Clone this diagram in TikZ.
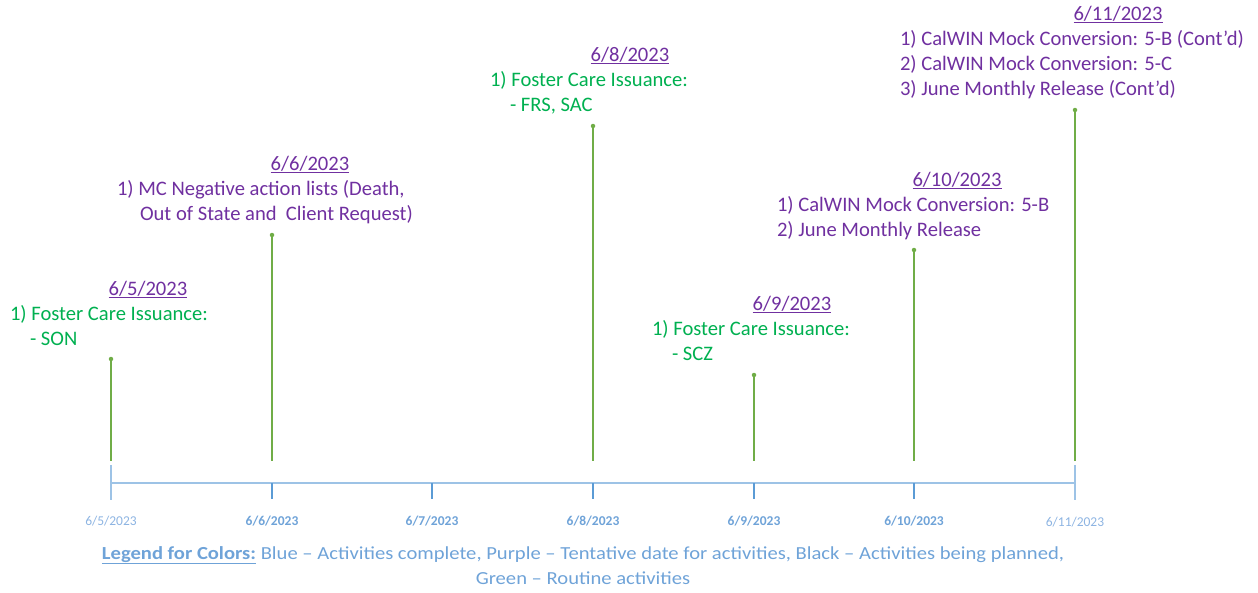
\documentclass[tikz,border=0pt]{standalone}
\usepackage{fontspec}
\setmainfont{Carlito}
\newfontfamily\legfont[FakeStretch=1.12]{Carlito}
\definecolor{gtext}{HTML}{00B050}
\definecolor{ptext}{HTML}{7030A0}
\definecolor{stem}{HTML}{70AD47}
\definecolor{axis}{HTML}{9DC3E6}
\definecolor{tick}{HTML}{5B9BD5}
\definecolor{lbl}{HTML}{6FA3D8}
\definecolor{lbllight}{HTML}{8DB4E2}
\begin{document}
\begin{tikzpicture}[x=1pt,y=-1pt,
  every node/.style={inner sep=0pt,outer sep=0pt},
  big/.style={font=\fontsize{20.6}{25}\selectfont},
  gline/.style={big,text=gtext,anchor=base west},
  pline/.style={big,text=ptext,anchor=base west},
  head/.style={big,text=ptext,anchor=base},
  stemline/.style={draw=stem,line width=2pt},
  stemdot/.style={circle,fill=stem,minimum size=4.5pt},
  axlbl/.style={font=\fontsize{13.5}{16}\selectfont\bfseries,text=lbl,anchor=base},
  axlblend/.style={font=\fontsize{13.5}{16}\selectfont,text=lbllight,anchor=base},
  legend/.style={font=\legfont\fontsize{18.4}{22}\selectfont,text=lbl,anchor=base}]
\useasboundingbox (0,0) rectangle (1258,592);

% axis
\coordinate (a0) at (111,483);
\coordinate (a6) at (1075,483);
\draw[axis,line width=2pt] (a0) -- (a6);
\coordinate (e0t) at (111,465); \coordinate (e0b) at (111,500);
\coordinate (e6t) at (1075,465); \coordinate (e6b) at (1075,500);
\draw[axis,line width=1.6pt] (e0t) -- (e0b);
\draw[axis,line width=1.6pt] (e6t) -- (e6b);
\foreach \i/\x in {1/272,2/432,3/593,4/754,5/914}{
  \coordinate (t\i a) at (\x,483);
  \coordinate (t\i b) at (\x,499);
  \draw[tick,line width=1.2pt] (t\i a) -- (t\i b);
}

% axis labels
\node[axlblend] (l0) at (111,525) {6/5/2023};
\node[axlbl] (l1) at (272,525) {6/6/2023};
\node[axlbl] (l2) at (432,525) {6/7/2023};
\node[axlbl] (l3) at (593,525) {6/8/2023};
\node[axlbl] (l4) at (754,525) {6/9/2023};
\node[axlbl] (l5) at (914,525) {6/10/2023};
\node[axlblend] (l6) at (1075,526) {6/11/2023};

% stems
\foreach \n/\x/\y in {s0/111/359,s1/272/235,s3/593/126,s4/754/375,s5/914/250,s6/1075/110}{
  \coordinate (\n top) at (\x,\y);
  \coordinate (\n bot) at (\x,461);
  \draw[stemline] (\n top) -- (\n bot);
  \node[stemdot] (\n dot) at (\n top) {};
}

% 6/5
\node[head] (h0) at (148,295) {\underline{6/5/2023}};
\node[gline] (h0a) at (10,320) {1) Foster Care Issuance:};
\node[gline] (h0b) at (30,345) {- SON};

% 6/6
\node[head] (h1) at (310,170) {\underline{6/6/2023}};
\node[pline] (h1a) at (117,195) {1) MC Negative action lists (Death,};
\node[pline] (h1b) at (140,220) {Out of State and\ \ Client Request)};

% 6/8
\node[head] (h3) at (630,61) {\underline{6/8/2023}};
\node[gline] (h3a) at (490,86) {1) Foster Care Issuance:};
\node[gline] (h3b) at (510,111) {- FRS, SAC};

% 6/9
\node[head] (h4) at (792,310) {\underline{6/9/2023}};
\node[gline] (h4a) at (652,335) {1) Foster Care Issuance:};
\node[gline] (h4b) at (672,360) {- SCZ};

% 6/10
\node[head] (h5) at (957,186) {\underline{6/10/2023}};
\node[pline] (h5a) at (777,211) {1) CalWIN Mock Conversion: 5-B};
\node[pline] (h5b) at (777,236) {2) June Monthly Release};

% 6/11
\node[head] (h6) at (1118,20) {\underline{6/11/2023}};
\node[pline] (h6a) at (900,45) {1) CalWIN Mock Conversion: 5-B (Cont’d)};
\node[pline] (h6b) at (900,70) {2) CalWIN Mock Conversion: 5-C};
\node[pline] (h6c) at (900,95) {3) June Monthly Release (Cont’d)};

% legend
\node[legend] (lg1) at (583,559) {\textbf{\underline{Legend for Colors:}} Blue – Activities complete, Purple – Tentative date for activities, Black – Activities being planned,};
\node[legend] (lg2) at (583,584) {Green – Routine activities};
\end{tikzpicture}
\end{document}
